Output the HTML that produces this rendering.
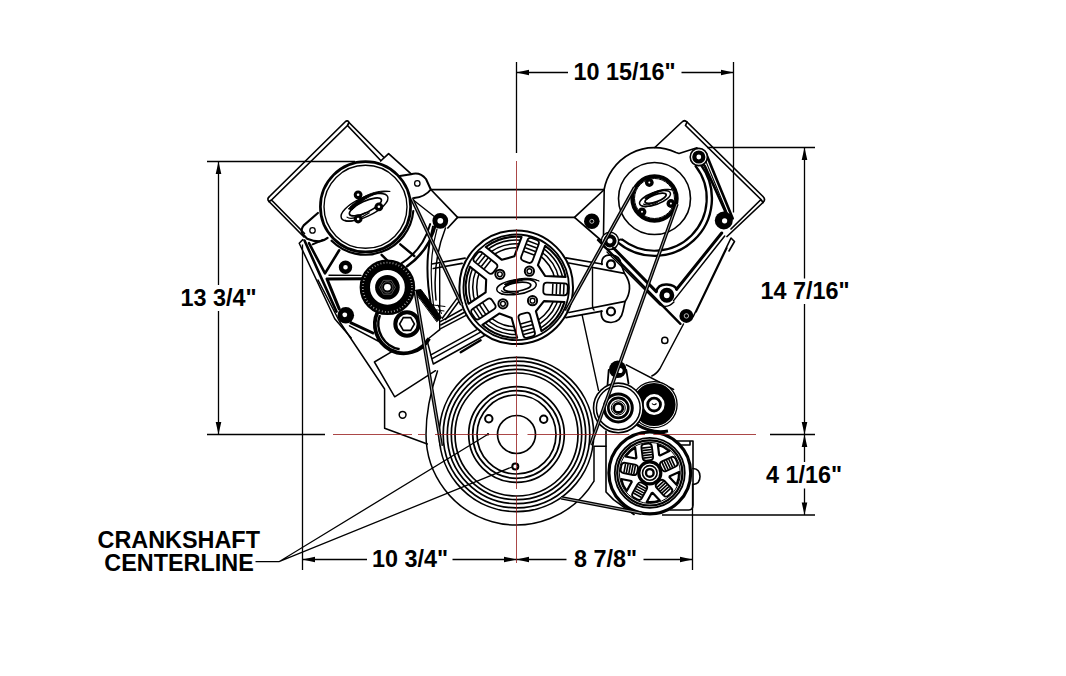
<!DOCTYPE html>
<html><head><meta charset="utf-8"><title>Drawing</title>
<style>
html,body{margin:0;padding:0;background:#fff;}
svg{display:block;}
text{font-family:"Liberation Sans",sans-serif;font-weight:bold;font-size:23.4px;fill:#000;}
.t{stroke:#000;fill:none;}
.m{stroke:#000;fill:none;}
.h{stroke:#000;fill:none;}
.r{stroke:#961818;fill:none;}
</style></head><body>
<svg width="1066" height="676" viewBox="0 0 1066 676">
<rect width="1066" height="676" fill="#fff"/>
<!-- dimension lines -->
<g class="t" stroke-width="1.3">
<path d="M516.5 62V153M733.5 62V212.5"/>
<path d="M516.5 72.5H568M681.5 72.5H733.5"/>
<path d="M207 161.5H355M207 434.5H325"/>
<path d="M218.5 161.5V285M218.5 311V434.5"/>
<path d="M707 147.5H815M770 434.5H815M662 515H815"/>
<path d="M804.5 147.5V278.5M804.5 304V434.5M804.5 434.5V462M804.5 488.5V515"/>
<path d="M302.5 244.5V570M692.5 483.5V570"/>
<path d="M302.5 559.5H367M452.5 559.5H516.5M516.5 559.5H566.5M643.5 559.5H692.5"/>
<path d="M255.5 561.7H279L488 434.3M279 561.7L512 467"/>
</g>
<g fill="#000" stroke="none">
<path d="M516.5 72.5l12.5 -2.8v5.6zM733.5 72.5l-12.5 -2.8v5.6z"/>
<path d="M218.5 161.5l-2.8 12.5h5.6zM218.5 434.5l-2.8 -12.5h5.6z"/>
<path d="M804.5 147.5l-2.8 12.5h5.6zM804.5 434.5l-2.8 -12.5h5.6zM804.5 434.5l-2.8 12.5h5.6zM804.5 515l-2.8 -12.5h5.6z"/>
<path d="M302.5 559.5l12.5 -2.8v5.6zM516.5 559.5l-12.5 -2.8v5.6zM516.5 559.5l12.5 -2.8v5.6zM692.5 559.5l-12.5 -2.8v5.6z"/>
<circle cx="488" cy="434.3" r="1.2"/>
</g>
<text x="573.5" y="80.1">10 15/16"</text>
<text x="180.5" y="306">13 3/4"</text>
<text x="760.5" y="299">14 7/16"</text>
<text x="766" y="482.9">4 1/16"</text>
<text x="372" y="567">10 3/4"</text>
<text x="574" y="567">8 7/8"</text>
<text x="97.5" y="547.8">CRANKSHAFT</text>
<text x="104.3" y="570.8">CENTERLINE</text>
<!-- valve covers, intake, block outline (thin lines) -->
<g class="t" stroke-width="1.7" stroke-linejoin="round" stroke-linecap="round">
<!-- left valve cover -->
<path d="M383.5 157L349 122.5Q347.6 119.5 345 122L269.5 196.5Q266.5 198.800 269 201.500L304 237"/>
<path d="M380.700 160.500L347.500 125.500L271.500 200L304.500 233.500M347.500 125.500L349 122.500M271.500 200L269 201.500"/>
<path d="M380.700 161L388.600 153.700L411.100 173.800"/>
<path d="M430.800 189.500L457.600 217.400L447.800 228"/>
<!-- intake -->
<path d="M430.800 189.700H603.800M457.600 217.400H574.500"/>
<!-- right valve cover -->
<path d="M654.800 147.500L682 122Q684.500 119.500 687 122L763 196.500Q766 199.500 763 202.500L727 236.500"/>
<path d="M685.500 125.500L761 199.500L731 229M685.500 125.500L687 122M761 199.500L763 202.500"/>
<path d="M603.800 190L574.500 217.400L603 242"/>
</g>
<!-- lower block outline and timing cover -->
<g class="t" stroke-width="1.500" stroke-linejoin="round" stroke-linecap="round">
<!-- left block edge -->
<path d="M318 280L339.800 322L384.600 389V428.300L427.300 444"/>
<path d="M349.500 325.800L381.800 343"/>
<circle cx="402.600" cy="414.800" r="3.400"/>
<!-- rotated rectangle -->
<path d="M391.500 351.800L374.400 362L394.700 396.800L435.500 370.700"/>
<!-- timing cover left curve and bottom arc -->
<path d="M437.500 371Q426 405 426 434.500A90.500 90.500 0 0 0 594 481.200V446.300H606"/>
<!-- WP lower-left bar -->
<path d="M427.400 341.800L431.800 358.800L480.500 332.200M431.800 358.800L433.300 364L484.500 335.500M430.500 355.200L476.500 329.800"/>
<path d="M460.700 352.200L480.600 340.300" stroke-width="2.400"/>
</g>
<!-- crank pulley -->
<g class="t" stroke-width="1.7">
<circle cx="516.5" cy="434.5" r="19"/>
<circle cx="516.5" cy="434.5" r="39.5"/>
<circle cx="516.5" cy="434.5" r="43.8"/>
<circle cx="516.5" cy="434.5" r="47.8"/>
<circle cx="516.5" cy="434.5" r="61.5"/>
<circle cx="516.5" cy="434.5" r="65.2"/>
<circle cx="516.5" cy="434.5" r="69.2"/>
<circle cx="516.5" cy="434.5" r="73.3"/>
<circle cx="516.5" cy="434.5" r="77.2"/>
<circle cx="488.8" cy="418.8" r="3.7" stroke-width="2"/>
<circle cx="543.7" cy="419.3" r="3.7" stroke-width="2"/>
<circle cx="515.3" cy="466.4" r="3" stroke-width="2"/>
</g>
<!-- PS reservoir + left bracket -->
<defs>
<g id="logo">
<ellipse vector-effect="non-scaling-stroke" cx="0" cy="0" rx="25.500" ry="9.500" fill="none" stroke="#000" stroke-width="1.500"/>
<path vector-effect="non-scaling-stroke" d="M-23 3.500C-21 8.500 -8 8.500 2 7" fill="none" stroke="#000" stroke-width="1.200"/>
<path vector-effect="non-scaling-stroke" d="M-20 1.500C-18 6 -8 6 -2 5.500" fill="none" stroke="#000" stroke-width="1.200"/>
<ellipse vector-effect="non-scaling-stroke" cx="1" cy="0" rx="17.500" ry="5.600" fill="none" stroke="#000" stroke-width="1.700"/>
<path vector-effect="non-scaling-stroke" d="M-15 -5.500C-4 -10.500 16 -13 30 -3.500C18 -9.500 2 -8.500 -12 -3z" fill="#000" stroke="#000" stroke-width="1"/>
</g>
</defs>
<g class="m" stroke-width="1.5" stroke-linejoin="round" stroke-linecap="round">
<!-- ears -->
<path d="M399.800 176L411 174.200Q420 171.500 426 179L430.800 189.500Q425 197 414 198" stroke-width="2"/>
<circle cx="417.300" cy="183.400" r="2.700" stroke-width="1.300"/>
<path d="M317.900 213L303.700 225.400Q300 230 302.800 234.300L307.200 238.700Q314 241.500 319.600 241.400Q324.500 240.500 327.600 237.900" stroke-width="2.200"/>
<circle cx="312.500" cy="230.400" r="2.700" stroke-width="1.300"/>
<!-- reservoir -->
<path d="M413.300 211A48 48 0 0 1 331.600 240.700" stroke-width="2.200"/>
<circle cx="365.500" cy="206.800" r="45.100" stroke-width="2.700" fill="#fff"/>
<circle cx="365.500" cy="206.800" r="41.500" stroke-width="1.400"/>
<use href="#logo" transform="translate(364.500,207.300) rotate(-25)"/>
<g fill="#000" stroke="none"><circle cx="358.100" cy="194.800" r="4.400"/><circle cx="378.900" cy="206.800" r="4.400"/><circle cx="358.100" cy="219" r="4.400"/></g>
<g fill="#fff" stroke="none"><circle cx="358.100" cy="194.800" r="1.300"/><circle cx="378.900" cy="206.800" r="1.300"/><circle cx="358.100" cy="219" r="1.300"/></g>
<!-- bracket below -->
<path d="M304.500 240.500L336.500 311.600" stroke-width="2.600"/>
<path d="M302.800 239.600L299.200 243.200L334.700 318.700L351.200 338" stroke-width="1.500"/>
<path d="M309 243.200L325 273.400L339.200 250.300" stroke-width="2.600"/>
<path d="M339.200 308.900L327 279L363.200 278.700" stroke-width="3"/>
<path d="M329 275.200L361 275.400" stroke-width="1.400"/><path d="M312.600 244.300L323 239.800" stroke-width="2"/>
<!-- curved link right -->
<path d="M435.8 224.3A72.5 72.5 0 0 1 407.1 266.2" stroke-width="2.600"/>
<path d="M430.2 224.1A67 67 0 0 1 401 263.6" stroke-width="2"/>
<path d="M400.300 244.300L414.300 256M381.600 254.800L387.400 260.700" stroke-width="2.400"/><path d="M412 199L440 221" stroke-width="1.400"/>
</g>
<!-- bolts left -->
<g>
<circle cx="440.300" cy="220.800" r="5.400" fill="#fff" stroke="#000" stroke-width="5"/>
<circle cx="345.500" cy="267.200" r="4.500" fill="#fff" stroke="#000" stroke-width="4.400"/>
<circle cx="345.800" cy="315.300" r="8.300" fill="#000"/><circle cx="344.800" cy="314.800" r="2.400" fill="#fff"/>
</g>
<!-- curved link from bolt to tensioner -->
<g class="m" stroke-width="1.500" stroke-linecap="round">
<path d="M433 226.500Q423 262 431 305" stroke-width="2"/>
<path d="M437 229Q427.500 262 433.500 305" stroke-width="1.200"/>
<path d="M445.500 228Q432 262 436 300" stroke-width="1.500"/>
</g>
<!-- tensioner body -->
<g class="m">
<path d="M377.7 311.7A29 29 0 0 0 429.1 338.5" stroke-width="3.800"/>
<path d="M379.900 315.200A25.600 25.600 0 0 0 399.600 349.200" stroke-width="2.400"/>
<circle cx="407" cy="324" r="11.700" stroke-width="4" fill="#fff"/>
<path d="M414.400 324L410.700 330.400L403.300 330.400L399.600 324L403.300 317.600L410.700 317.600Z" stroke-width="1.600"/>
<path d="M350 322.300L374 333.500" stroke-width="3"/>

</g>
<!-- ribbed idler -->
<g>
<circle cx="387.400" cy="287.300" r="22.600" fill="#fff" stroke="#000" stroke-width="10.400"/>
<circle cx="387.400" cy="287.300" r="24.600" fill="none" stroke="#aaa" stroke-width="1.800" stroke-dasharray="0.800 2.290"/>
<circle cx="387.400" cy="287.300" r="12.300" fill="#000"/>
<path d="M395.400 287.300L391.400 294.230L383.400 294.230L379.400 287.300L383.400 280.370L391.400 280.370Z" fill="none" stroke="#888" stroke-width="0.600"/>
<circle cx="387.400" cy="287.300" r="5.600" fill="none" stroke="#888" stroke-width="0.600"/>
<circle cx="387.400" cy="287.300" r="3.300" fill="#fff"/>
</g>
<!-- water pump arms -->
<g class="m" stroke-width="1.700" stroke-linejoin="round" stroke-linecap="round">
<!-- right arms -->
<path d="M565.900 257.800L602 264"/>
<path d="M568.900 263L624.400 273.300Q630 281 629.500 288.800Q629 296 625.100 301.400L568.900 312.500"/>
<path d="M565.900 317.700L602 311.200"/>
<path d="M602 264.500Q600.500 255 611 254.800Q620 255.500 621 264L624.400 273.300"/>
<path d="M601.400 311Q600 322 611 322.500Q621 322 623 311L625.100 301.400"/>
<circle cx="611" cy="264.400" r="4" stroke-width="2.200"/>
<circle cx="611" cy="311.500" r="4" stroke-width="2.200"/>
<path d="M592.500 268.800V305Q592.500 309 594 310" stroke-width="1.400"/>
<path d="M582.200 315.400L598.500 390.300" stroke-width="1.400"/>
<!-- left arms -->
<path d="M431.800 264L465.100 258.100M433.300 268.500L462.100 263.300"/>
<path d="M439.700 264V329.700" stroke-width="1.400"/>
<path d="M440.700 321.400L462 309.500M440.700 325L464 312.500M440.700 328.700L466 315.300" stroke-width="1.500"/>
<path d="M442.300 318.300L456.800 298.600M445.500 319.500L459.500 300.500" stroke-width="1.500"/><path d="M429 304.500L445 306.500M431 309L444 311M433 304.500L437 313M438 305L441.500 313.500" stroke-width="1"/><path d="M439.700 329.700L426.700 340" stroke-width="1.500"/>
<path d="M414 290.500L421 289.500L441.500 317.500L437 321.500Z" fill="#000" stroke-width="1"/>
</g>
<!-- water pump pulley -->
<g>
<circle cx="516.2" cy="287.3" r="56.8" fill="#fff" stroke="#000" stroke-width="2"/>
<circle cx="516.2" cy="287.3" r="52.8" fill="none" stroke="#000" stroke-width="1.8"/>
<path d="M521.33 256.44L527.39 240.24Q528.62 236.96 531.89 238.19L536.58 239.94Q539.86 241.16 538.63 244.44L532.57 260.65Q531.35 263.92 528.07 262.7L523.38 260.95Q520.11 259.72 521.33 256.44Z" fill="#fff" stroke="#000" stroke-width="1.8"/>
<path d="M523.92 251.22L534.04 255M525.26 247.66L535.37 251.44M526.55 244.2L536.67 247.98M527.81 240.82L537.93 244.61" fill="none" stroke="#000" stroke-width="1.53"/>
<path d="M488.44 272.88L474.9 262.11Q472.16 259.94 474.34 257.2L477.45 253.28Q479.63 250.54 482.37 252.72L495.91 263.49Q498.65 265.67 496.47 268.41L493.36 272.32Q491.18 275.06 488.44 272.88Z" fill="#fff" stroke="#000" stroke-width="1.8"/>
<path d="M484.27 268.8L491 260.35M481.3 266.44L488.02 257.99M478.4 264.14L485.13 255.68M475.59 261.89L482.31 253.44" fill="none" stroke="#000" stroke-width="1.53"/>
<path d="M493.91 309.25L479.49 318.8Q476.57 320.73 474.63 317.81L471.88 313.64Q469.94 310.72 472.86 308.79L487.29 299.24Q490.21 297.31 492.14 300.23L494.9 304.4Q496.83 307.32 493.91 309.25Z" fill="#fff" stroke="#000" stroke-width="1.8"/>
<path d="M488.74 311.95L482.78 302.94M485.57 314.05L479.61 305.04M482.49 316.09L476.53 307.08M479.49 318.08L473.53 309.07" fill="none" stroke="#000" stroke-width="1.53"/>
<path d="M530.19 315.28L534.81 331.95Q535.74 335.32 532.37 336.26L527.55 337.6Q524.18 338.53 523.25 335.16L518.62 318.49Q517.69 315.11 521.06 314.18L525.88 312.84Q529.25 311.91 530.19 315.28Z" fill="#fff" stroke="#000" stroke-width="1.8"/>
<path d="M531.16 321.03L520.75 323.92M532.17 324.69L521.77 327.58M533.16 328.26L522.75 331.14M534.12 331.73L523.72 334.61" fill="none" stroke="#000" stroke-width="1.53"/>
<path d="M547.13 282.64L564.42 283.4Q567.91 283.55 567.76 287.05L567.54 292.04Q567.39 295.54 563.89 295.39L546.61 294.63Q543.11 294.48 543.27 290.98L543.48 285.99Q543.64 282.49 547.13 282.64Z" fill="#fff" stroke="#000" stroke-width="1.8"/>
<path d="M552.9 283.5L552.43 294.29M556.7 283.66L556.23 294.45M560.39 283.82L559.92 294.61M563.99 283.98L563.52 294.77" fill="none" stroke="#000" stroke-width="1.53"/>
<path d="M514.32 256.36L521.52 237.08A50.5 50.5 0 0 0 485.77 247L501.88 259.81Z" fill="#fff" stroke="#000" stroke-width="2.1" stroke-linejoin="round"/>
<path d="M486.19 279.53L470.08 266.72A50.5 50.5 0 0 0 468.47 303.78L485.63 292.43Z" fill="#fff" stroke="#000" stroke-width="2.1" stroke-linejoin="round"/>
<path d="M499.54 313.44L482.38 324.8A50.5 50.5 0 0 0 517.13 337.79L511.63 317.96Z" fill="#fff" stroke="#000" stroke-width="2.1" stroke-linejoin="round"/>
<path d="M535.91 311.23L541.41 331.06A50.5 50.5 0 0 0 564.51 302.02L543.95 301.12Z" fill="#fff" stroke="#000" stroke-width="2.1" stroke-linejoin="round"/>
<path d="M545.05 275.95L565.61 276.85A50.5 50.5 0 0 0 545.13 245.91L537.92 265.18Z" fill="#fff" stroke="#000" stroke-width="2.1" stroke-linejoin="round"/>
<clipPath id="wpc"><path d="M514.32 256.36L521.52 237.08A50.5 50.5 0 0 0 485.77 247L501.88 259.81ZM486.19 279.53L470.08 266.72A50.5 50.5 0 0 0 468.47 303.78L485.63 292.43ZM499.54 313.44L482.38 324.8A50.5 50.5 0 0 0 517.13 337.79L511.63 317.96ZM535.91 311.23L541.41 331.06A50.5 50.5 0 0 0 564.51 302.02L543.95 301.12ZM545.05 275.95L565.61 276.85A50.5 50.5 0 0 0 545.13 245.91L537.92 265.18Z"/></clipPath>
<g clip-path="url(#wpc)" fill="none" stroke="#000" stroke-width="1.53"><circle cx="516.2" cy="287.3" r="39.5"/><circle cx="516.2" cy="287.3" r="43.5"/><circle cx="516.2" cy="287.3" r="47.3"/></g>
<circle cx="529.42" cy="271.18" r="4.6" fill="#fff" stroke="#000" stroke-width="2"/><circle cx="529.42" cy="271.18" r="2.4" fill="none" stroke="#000" stroke-width="1.4"/>
<circle cx="499.88" cy="274.28" r="4.6" fill="#fff" stroke="#000" stroke-width="2"/><circle cx="499.88" cy="274.28" r="2.4" fill="none" stroke="#000" stroke-width="1.4"/>
<circle cx="502.98" cy="303.82" r="4.6" fill="#fff" stroke="#000" stroke-width="2"/><circle cx="502.98" cy="303.82" r="2.4" fill="none" stroke="#000" stroke-width="1.4"/>
<circle cx="532.52" cy="300.72" r="4.6" fill="#fff" stroke="#000" stroke-width="2"/><circle cx="532.52" cy="300.72" r="2.4" fill="none" stroke="#000" stroke-width="1.4"/>
<use href="#logo" transform="translate(516.5,287) rotate(-8) scale(0.78)"/>
</g>
<!-- AC compressor -->
<g class="m" stroke-width="1.600" stroke-linejoin="round" stroke-linecap="round">
<path d="M604 190A51 51 0 0 1 676 152.500L679 153.500L697 147.800" stroke-width="1.700"/>
<path d="M604.200 190L603.500 235"/>
<circle cx="654.500" cy="198.500" r="36" stroke-width="1.600"/>
<!-- curved slot -->
<path d="M700.9 164.8A57.3 57.3 0 0 1 617.7 242.4" stroke-width="2.400"/>
<path d="M695.7 166.3A52.3 52.3 0 0 1 622.3 239.700" stroke-width="2.200"/>
<path d="M695.7 166.3Q697 162.500 700.900 164.800M622.300 239.700Q618 238.500 617.700 242.400" stroke-width="2"/>
<!-- link from top bolt to right bolt -->
<path d="M706 153.500L732.700 218.500" stroke-width="2.600"/><path d="M703.500 155.500L729.500 218.500" stroke-width="1.100"/>
<path d="M700.900 164.800Q703 163.500 704.800 166L725 210.600Q726 214 723 215" stroke-width="2.600"/>
<!-- inner pulley / belt -->
<circle cx="654.500" cy="198.500" r="22.200" stroke-width="4"/>
<circle cx="654.500" cy="198.500" r="20" stroke-width="1"/>
</g>
<use href="#logo" transform="translate(655,198.500) rotate(-20) scale(0.640)"/>
<g>
<g fill="#000"><circle cx="649.300" cy="182.500" r="4.400"/><circle cx="670.900" cy="203.500" r="4.400"/><circle cx="642" cy="211.800" r="4.400"/></g>
<g fill="#fff"><circle cx="649.300" cy="182.500" r="1"/><circle cx="670.900" cy="203.500" r="1"/><circle cx="642" cy="211.800" r="1"/></g>
<!-- bolts -->
<circle cx="698.800" cy="157" r="8.600" fill="#fff" stroke="#000" stroke-width="1.600"/>
<circle cx="698.800" cy="157" r="4.500" fill="#fff" stroke="#000" stroke-width="4.200"/>
<circle cx="591.800" cy="221.300" r="7.800" fill="#000"/><circle cx="591.800" cy="221.300" r="2" fill="none" stroke="#fff" stroke-width="0.700"/>
<circle cx="610" cy="240.800" r="8.600" fill="#fff" stroke="#000" stroke-width="1.500"/><circle cx="610" cy="240.800" r="4.600" fill="#fff" stroke="#000" stroke-width="4"/>
<circle cx="723.800" cy="220.500" r="9" fill="#000"/><circle cx="724.600" cy="220.800" r="2.600" fill="#fff"/>
<circle cx="666.800" cy="295.300" r="5.200" fill="#fff" stroke="#000" stroke-width="4.600"/>
<circle cx="686.400" cy="315.900" r="7" fill="#000"/><circle cx="686.400" cy="315.900" r="2.200" fill="none" stroke="#fff" stroke-width="0.700"/>
</g>
<!-- V bracket -->
<g class="m" stroke-width="1.600" stroke-linejoin="round" stroke-linecap="round">
<path d="M613.500 248L656.300 291.600" stroke-width="3"/>
<path d="M598 240L680.400 323.800" stroke-width="2.400"/>
<path d="M607 252L660 305Q667 309 674 302" stroke-width="1.300"/>
<path d="M676.600 289.300L721.700 233" stroke-width="3"/>
<path d="M673.600 300.600L724.700 236" stroke-width="1.500"/>
<path d="M696.100 311.800L726.900 248M693 317L731 238L734.500 241.500L729 251" stroke-width="1.600"/>
<path d="M656.300 291.600Q658 284 667 284.500Q675 285 676.600 289.300" stroke-width="2.400"/>
</g>
<!-- right bracket lower + idlers -->
<g class="t" stroke-width="1.500" stroke-linejoin="round" stroke-linecap="round">
<path d="M683.500 324L660 368.500Q656.500 374 651.800 376"/>
<circle cx="664.800" cy="340.400" r="3.100"/>
<path d="M626.300 364.800L673.600 389.500"/>
<path d="M608.700 370L607.500 385M626.300 370L628.500 383.500" stroke-width="1.800"/>
</g>
<g>
<!-- idler 2 (black) -->
<circle cx="654.100" cy="404.600" r="23" fill="#fff" stroke="#000" stroke-width="1.300"/>
<circle cx="654.100" cy="404.600" r="16" fill="#fff" stroke="#000" stroke-width="11"/>
<circle cx="654.100" cy="404.600" r="6.400" fill="#fff" stroke="#000" stroke-width="2.800"/>
<path d="M652 403.500Q654 406 656.500 403.500" fill="none" stroke="#000" stroke-width="1.200"/>
<path d="M636 424Q652 434 668 431" fill="none" stroke="#000" stroke-width="3"/>
<!-- idler 1 -->
<circle cx="618.300" cy="407.900" r="24.800" fill="#fff" stroke="#000" stroke-width="1.600"/>
<circle cx="618.300" cy="407.900" r="21.900" fill="none" stroke="#000" stroke-width="1.500"/>
<circle cx="618.300" cy="407.900" r="14" fill="none" stroke="#000" stroke-width="3"/>
<circle cx="618.300" cy="407.900" r="10" fill="none" stroke="#000" stroke-width="2.600"/>
<circle cx="618.300" cy="407.900" r="7" fill="none" stroke="#000" stroke-width="1"/>
<circle cx="618.300" cy="407.900" r="4.600" fill="#fff" stroke="#000" stroke-width="2.800"/>
<!-- pivot bolt -->
<circle cx="617.700" cy="369.300" r="8.700" fill="#000"/><circle cx="620" cy="370.500" r="2.600" fill="#fff"/>
</g>
<!-- alternator -->
<g class="m" stroke-width="1.6" stroke-linejoin="round" stroke-linecap="round">
<path d="M606 431V492L613.5 499.6L634 514.5M655 441H693V505Q693 510 688.6 510L670 510M675 441L678 445H690V441"/>
<path d="M693 468.5Q700 469 700 476.5Q700 484 693 484.5"/>
</g>
<g>
<circle cx="649.8" cy="472.9" r="40.9" fill="#fff" stroke="#000" stroke-width="3.2"/>
<circle cx="649.8" cy="472.9" r="35" fill="none" stroke="#000" stroke-width="1.8"/>
<circle cx="649.8" cy="472.9" r="32.6" fill="none" stroke="#000" stroke-width="2.2"/>
<circle cx="649.8" cy="472.9" r="30.5" fill="none" stroke="#000" stroke-width="1"/>
<path d="M642.64 457.66L641.44 447.93Q641.02 444.46 644.49 444.03L647.97 443.61Q651.44 443.18 651.87 446.65L653.06 456.38Q653.49 459.85 650.01 460.28L646.54 460.71Q643.07 461.13 642.64 457.66Z" fill="#fff" stroke="#000" stroke-width="1.9"/>
<path d="M643.3 458.08L652.53 456.95M642.99 455.6L652.22 454.47M642.69 453.12L651.92 451.99M642.38 450.64L651.61 449.5M642.08 448.16L651.31 447.02" fill="none" stroke="#000" stroke-width="1.61"/>
<path d="M633.09 475L623.47 473.13Q620.04 472.46 620.7 469.03L621.37 465.59Q622.04 462.16 625.48 462.82L635.1 464.69Q638.53 465.36 637.86 468.8L637.2 472.23Q636.53 475.67 633.09 475Z" fill="#fff" stroke="#000" stroke-width="1.9"/>
<path d="M633.7 474.51L635.47 465.38M631.24 474.03L633.02 464.9M628.79 473.55L630.56 464.42M626.34 473.08L628.11 463.95M623.88 472.6L625.66 463.47" fill="none" stroke="#000" stroke-width="1.61"/>
<path d="M646.63 489.44L641.88 498.01Q640.19 501.07 637.13 499.37L634.06 497.68Q631 495.98 632.7 492.92L637.45 484.35Q639.15 481.29 642.21 482.98L645.27 484.68Q648.33 486.38 646.63 489.44Z" fill="#fff" stroke="#000" stroke-width="1.9"/>
<path d="M646.35 488.71L638.22 484.2M645.14 490.9L637.01 486.39M643.93 493.08L635.79 488.58M642.72 495.27L634.58 490.76M641.5 497.46L633.37 492.95" fill="none" stroke="#000" stroke-width="1.61"/>
<path d="M664.55 481.02L671.24 488.19Q673.62 490.75 671.06 493.14L668.5 495.52Q665.94 497.91 663.56 495.35L656.87 488.18Q654.49 485.62 657.05 483.24L659.6 480.85Q662.16 478.46 664.55 481.02Z" fill="#fff" stroke="#000" stroke-width="1.9"/>
<path d="M663.77 481.06L656.97 487.41M665.48 482.89L658.68 489.24M667.18 484.72L660.38 491.06M668.89 486.55L662.09 492.89M670.59 488.38L663.79 494.72" fill="none" stroke="#000" stroke-width="1.61"/>
<path d="M662.08 461.38L670.96 457.24Q674.14 455.76 675.62 458.93L677.09 462.1Q678.57 465.28 675.4 466.75L666.52 470.9Q663.35 472.38 661.87 469.2L660.39 466.03Q658.91 462.86 662.08 461.38Z" fill="#fff" stroke="#000" stroke-width="1.9"/>
<path d="M661.88 462.14L665.81 470.56M664.15 461.08L668.08 469.51M666.41 460.02L670.34 468.45M668.68 458.97L672.61 467.39M670.95 457.91L674.88 466.34" fill="none" stroke="#000" stroke-width="1.61"/>
<path d="M636.41 457.78L635.15 447.53A29.3 29.3 0 0 0 625.51 456.51L635.65 458.49Z" fill="#fff" stroke="#000" stroke-width="2.2" stroke-linejoin="round"/>
<path d="M631.28 480.96L621.14 478.99A29.3 29.3 0 0 0 626.71 490.94L631.72 481.9Z" fill="#fff" stroke="#000" stroke-width="2.2" stroke-linejoin="round"/>
<path d="M651.75 493.01L646.74 502.04A29.3 29.3 0 0 0 659.82 500.43L652.78 492.88Z" fill="#fff" stroke="#000" stroke-width="2.2" stroke-linejoin="round"/>
<path d="M669.52 477.26L676.57 484.82A29.3 29.3 0 0 0 679.08 471.88L669.72 476.24Z" fill="#fff" stroke="#000" stroke-width="2.2" stroke-linejoin="round"/>
<path d="M660.04 455.49L669.4 451.12A29.3 29.3 0 0 0 657.88 444.74L659.14 454.99Z" fill="#fff" stroke="#000" stroke-width="2.2" stroke-linejoin="round"/>
<clipPath id="altc"><path d="M636.41 457.78L635.15 447.53A29.3 29.3 0 0 0 625.51 456.51L635.65 458.49ZM631.28 480.96L621.14 478.99A29.3 29.3 0 0 0 626.71 490.94L631.72 481.9ZM651.75 493.01L646.74 502.04A29.3 29.3 0 0 0 659.82 500.43L652.78 492.88ZM669.52 477.26L676.57 484.82A29.3 29.3 0 0 0 679.08 471.88L669.72 476.24ZM660.04 455.49L669.4 451.12A29.3 29.3 0 0 0 657.88 444.74L659.14 454.99Z"/></clipPath>
<g clip-path="url(#altc)" fill="none" stroke="#000" stroke-width="1.61"></g>
<circle cx="649.8" cy="472.9" r="11" fill="#fff" stroke="#000" stroke-width="3.2"/>
<circle cx="649.8" cy="472.9" r="7.3" fill="none" stroke="#000" stroke-width="1.6"/>
<circle cx="649.8" cy="472.9" r="3.8" fill="#fff" stroke="#000" stroke-width="2.4"/>
</g>
<!-- belts -->
<g fill="none" stroke-linecap="butt">
<g stroke="#000" stroke-width="3.600">
<path d="M677 204L590.500 445"/>
<path d="M634.600 187.400L566 311"/>
<path d="M411.500 198L461.700 304.700"/>
<path d="M415.200 291L441.300 446"/>
<path d="M561 497.800L641.500 513.200"/>
</g>
<g stroke="#fff" stroke-width="0.650">
<path d="M677 204L590.500 445"/>
<path d="M634.600 187.400L566 311"/>
<path d="M411.500 198L461.700 304.700"/>
<path d="M415.200 291L441.300 446"/>
<path d="M561 497.800L641.500 513.200"/>
</g>
</g>
<!-- centerlines -->
<g class="r" stroke-width="0.800">
<path d="M516.500 161V220M516.500 229V347M516.500 356V489M516.500 495.500V563"/>
<path d="M333 434.500H412M418 434.500H425M435 434.500H518M527.500 434.500H629.300M637.600 434.500H645M653.300 434.500H756"/>
</g>
</svg>
</body></html>
